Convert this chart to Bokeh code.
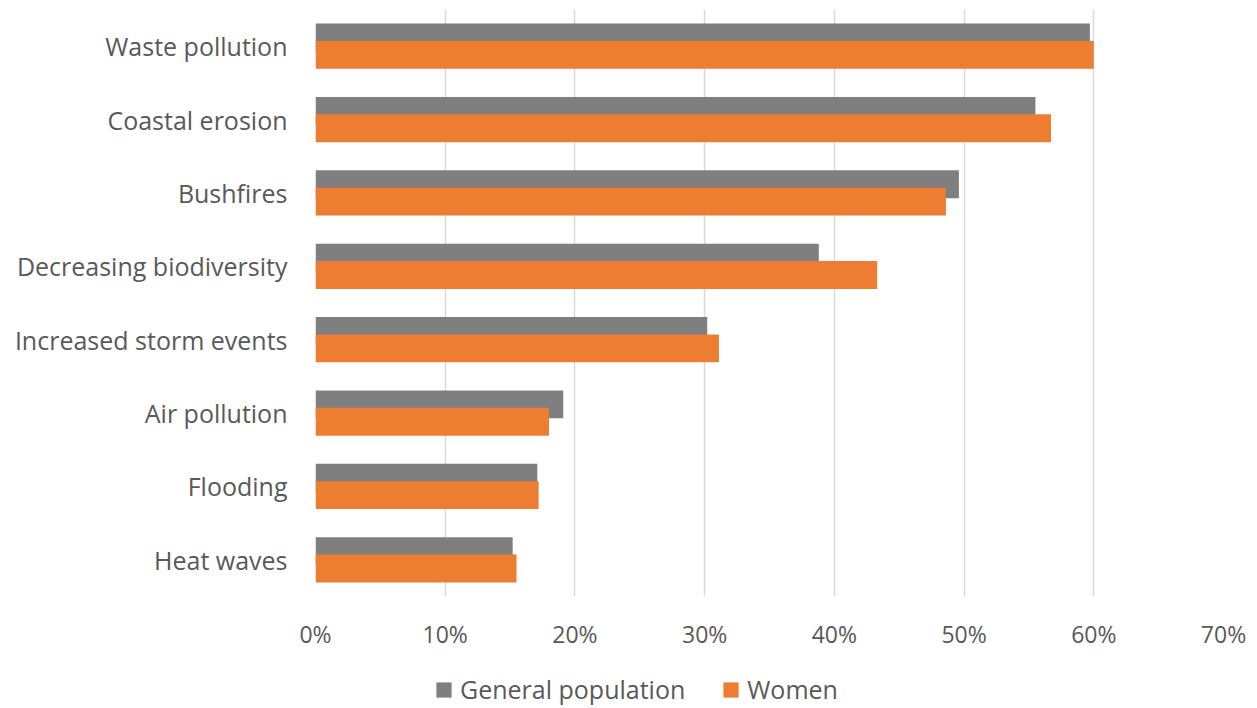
from bokeh.plotting import figure
from bokeh.layouts import column
from bokeh.models import ColumnDataSource, FactorRange, Range1d, Legend, LegendItem, NumeralTickFormatter, FixedTicker
from bokeh.transform import dodge
from bokeh.embed import file_html
from bokeh.resources import INLINE

categories = ["Waste pollution", "Coastal erosion", "Bushfires", "Decreasing biodiversity",
              "Increased storm events", "Air pollution", "Flooding", "Heat waves"]
general_population = [59.7, 55.5, 49.6, 38.8, 30.2, 19.1, 17.1, 15.2]
women = [60.0, 56.7, 48.6, 43.3, 31.1, 18.0, 17.2, 15.5]
x_ticks = [0, 10, 20, 30, 40, 50, 60, 70]
series_names = ["General population", "Women"]
series_colors = ["#7f7f7f", "#ed7d31"]

src = ColumnDataSource(dict(cat=categories,
                            gen=[v / 100 for v in general_population],
                            wom=[v / 100 for v in women]))

FONT = "Open Sans"
TXT = "#595959"

p = figure(width=1250, height=655, output_backend="svg", toolbar_location=None,
           y_range=FactorRange(*list(reversed(categories)), range_padding=0),
           x_range=Range1d(0, 0.7),
           min_border_left=315, min_border_right=27, min_border_top=9, min_border_bottom=59)
p.outline_line_color = None

r1 = p.hbar(y=dodge("cat", 0.118, range=p.y_range), right="gen", left=0, height=0.38,
            source=src, fill_color=series_colors[0], line_color=None)
r2 = p.hbar(y=dodge("cat", -0.118, range=p.y_range), right="wom", left=0, height=0.38,
            source=src, fill_color=series_colors[1], line_color=None)

p.xaxis.ticker = FixedTicker(ticks=[t / 100 for t in x_ticks])
p.xaxis.formatter = NumeralTickFormatter(format="0%")
p.xgrid.grid_line_color = "#d9d9d9"
p.xgrid.grid_line_width = 1.5
p.ygrid.grid_line_color = None

for ax in (p.xaxis, p.yaxis):
    ax.axis_line_color = None
    ax.major_tick_line_color = None
    ax.minor_tick_line_color = None
    ax.major_tick_out = 0
    ax.major_tick_in = 0
    ax.major_label_text_font = FONT
    ax.major_label_text_color = TXT
p.yaxis.major_label_text_font_size = "25px"
p.xaxis.major_label_text_font_size = "23px"
p.yaxis.major_label_standoff = 28
p.xaxis.major_label_standoff = 21

# separate strip for the legend below the chart (its frame is aligned with the chart's frame)
lg = figure(width=1250, height=51, output_backend="svg", toolbar_location=None,
            x_range=Range1d(0, 1), y_range=Range1d(0, 1),
            min_border_left=0, min_border_right=0, min_border_top=0, min_border_bottom=0)
lg.axis.visible = False
lg.grid.grid_line_color = None
lg.outline_line_color = None
offscreen = ColumnDataSource(dict(y=[-5], right=[-5]))
l1 = lg.hbar(y="y", right="right", left=-6, height=0.5, source=offscreen,
             fill_color=series_colors[0], line_color=None)
l2 = lg.hbar(y="y", right="right", left=-6, height=0.5, source=offscreen,
             fill_color=series_colors[1], line_color=None)

legend = Legend(items=[LegendItem(label=series_names[0], renderers=[l1]),
                       LegendItem(label=series_names[1], renderers=[l2])],
                orientation="horizontal", location=(119, 0),
                label_text_font=FONT, label_text_color=TXT, label_text_font_size="25px",
                glyph_width=19, glyph_height=19, label_standoff=7, spacing=36,
                border_line_color=None, background_fill_alpha=0, margin=0, padding=2)
lg.add_layout(legend, "center")

layout = column(p, lg, spacing=0)
open("out.html", "w").write(file_html(layout, INLINE))
